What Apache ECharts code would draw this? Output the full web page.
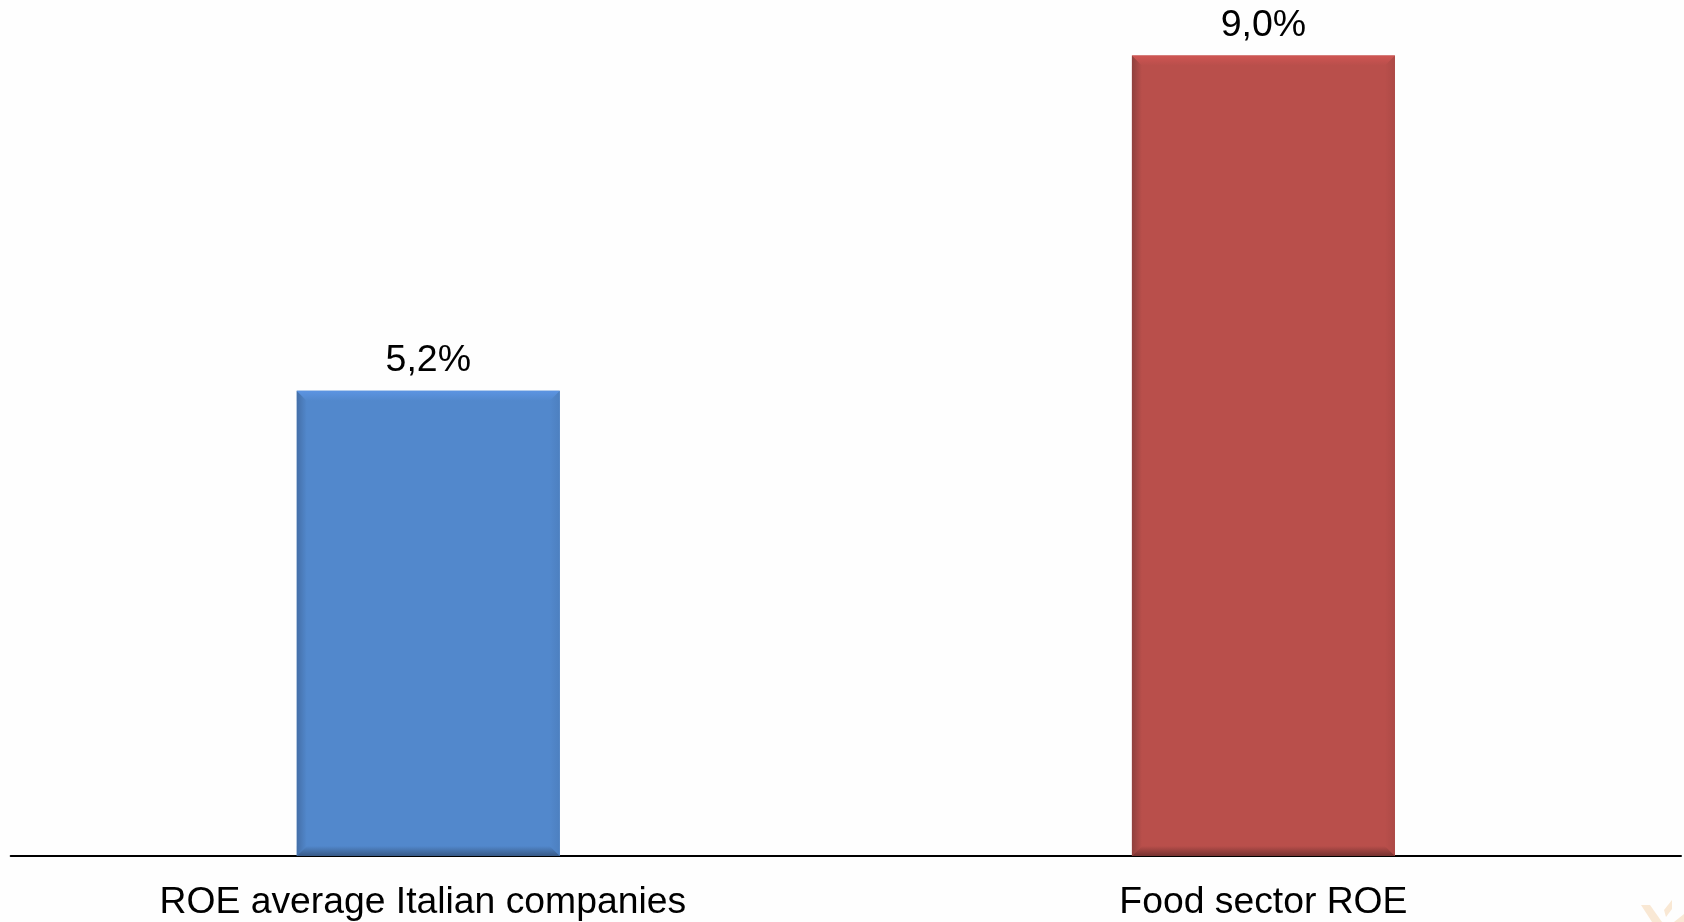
<!DOCTYPE html>
<html><head><meta charset="utf-8">
<style>html,body{margin:0;padding:0;background:#fefefe}#c{width:1684px;height:922px}</style>
<script src="https://cdn.jsdelivr.net/npm/echarts@6/dist/echarts.min.js"></script>
</head><body><div id="c"></div>
<script>
const categories = ['ROE average Italian companies', 'Food sector ROE'];
const values = [5.23, 9.0];
const faceColors = ['#5288cc', '#b94f4b'];
const topColors = ['#5c94e2', '#cf5553'];
const sideColors = ['#446fa8', '#8f403d'];
const rightColors = ['#4d80c0', '#ad4a46'];
const bottomColors = ['#385a87', '#763230'];
const sprigColor = '#f9e8d4';

const BEVEL = 10;
const chart = echarts.init(document.getElementById('c'), null, {renderer: 'canvas'});
function grad(x0, y0, x1, y1, a, b) {
  return new echarts.graphic.LinearGradient(x0, y0, x1, y1, [{offset: 0, color: a}, {offset: 1, color: b}]);
}
chart.setOption({
  animation: false,
  backgroundColor: '#fefefe',
  grid: {left: 10.7, right: 3, top: 55.5, bottom: 66},
  graphic: [
    {type: 'polygon', silent: true, shape: {points: [[1641, 905], [1650, 905], [1662, 922], [1652, 922]]}, style: {fill: sprigColor}},
    {type: 'polygon', silent: true, shape: {points: [[1672, 900], [1672, 909], [1666, 917], [1664, 910]]}, style: {fill: sprigColor}},
    {type: 'polygon', silent: true, shape: {points: [[1684, 914], [1684, 922], [1674, 922]]}, style: {fill: sprigColor}}
  ],
  xAxis: {
    type: 'category',
    data: [
      {value: categories[0], textStyle: {padding: [0, 11, 0, 0]}},
      {value: categories[1]}
    ],
    axisTick: {show: false},
    axisLine: {lineStyle: {color: '#000', width: 2}},
    axisLabel: {color: '#000', fontFamily: 'Liberation Sans', fontSize: 37.3, margin: 28}
  },
  yAxis: {type: 'value', min: 0, max: 9, show: false},
  series: [
    {
      type: 'bar', barWidth: 263, z: 2,
      data: values.map((v, i) => ({value: v, itemStyle: {color: faceColors[i]}})),
      label: {
        show: true, position: 'top', distance: 11, color: '#000',
        fontFamily: 'Liberation Sans', fontSize: 37.5,
        formatter: p => p.value.toFixed(1).replace('.', ',') + '%'
      }
    },
    {
      type: 'custom', z: 3, silent: true,
      data: values.map((v, i) => [i, v]),
      renderItem(params, api) {
        const i = params.dataIndex;
        const top = api.coord([api.value(0), api.value(1)]);
        const base = api.coord([api.value(0), 0]);
        const hw = 131.5, b = BEVEL;
        const l = top[0] - hw, r = top[0] + hw, t = top[1], y = base[1];
        const poly = (pts, fill) => ({type: 'polygon', shape: {points: pts}, style: {fill}});
        return {type: 'group', children: [
          poly([[l, t], [l + b, t + b], [l + b, y - b], [l, y]], grad(0, 0, 1, 0, sideColors[i], faceColors[i])),
          poly([[r, t], [r - b, t + b], [r - b, y - b], [r, y]], grad(0, 0, 1, 0, faceColors[i], rightColors[i])),
          poly([[l, y], [l + b, y - b], [r - b, y - b], [r, y]], grad(0, 0, 0, 1, faceColors[i], bottomColors[i])),
          poly([[l, t], [l + b, t + b], [r - b, t + b], [r, t]], grad(0, 0, 0, 1, topColors[i], faceColors[i]))
        ]};
      }
    }
  ]
});
</script></body></html>
